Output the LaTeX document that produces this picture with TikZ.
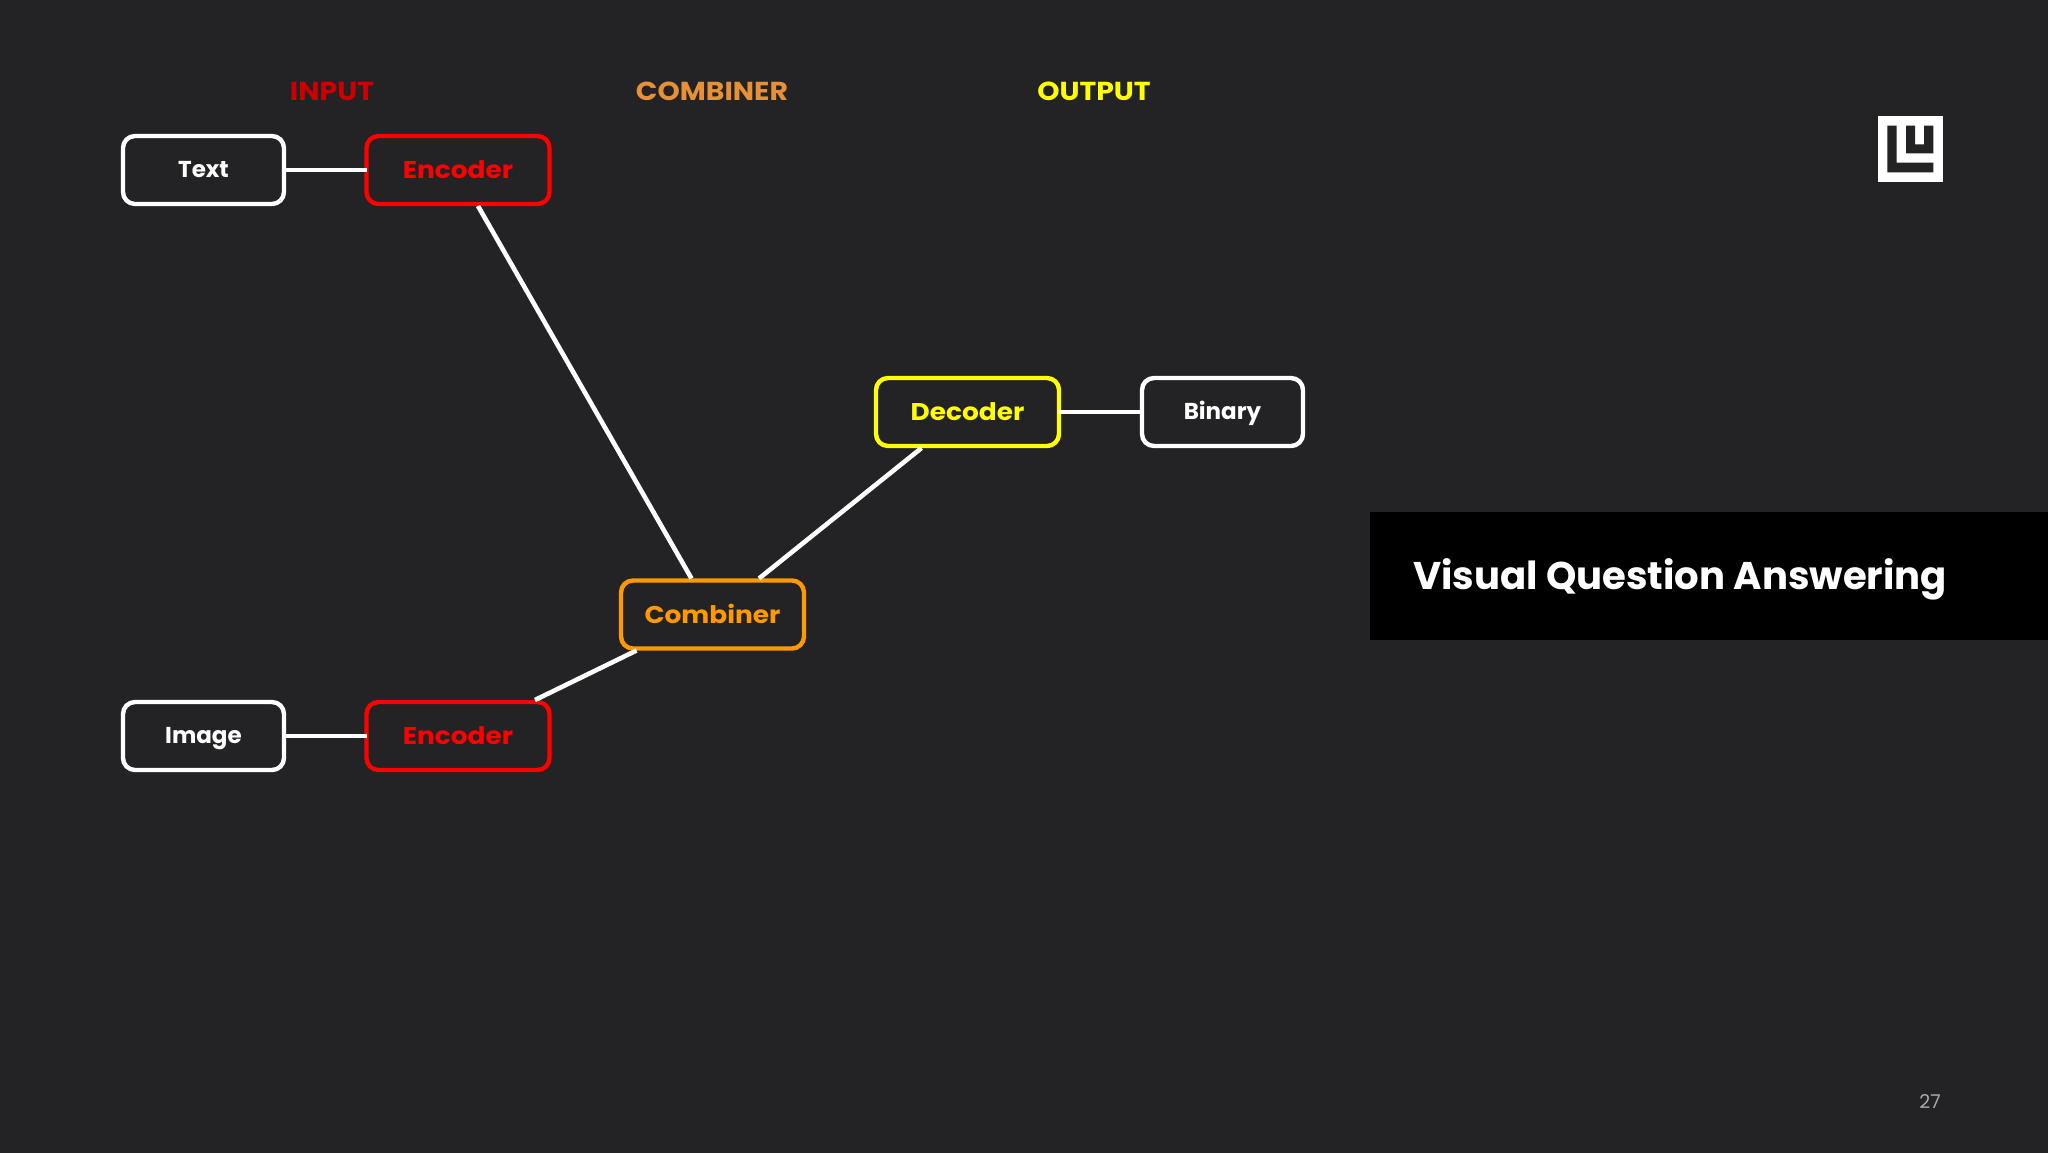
\documentclass[tikz,border=0pt]{standalone}
\usepackage{fontspec}
\setmainfont{Poppins}
\newfontfamily\widefont[FakeStretch=1.09]{Poppins}
\definecolor{bgc}{HTML}{232224}
\definecolor{inputc}{HTML}{CC0000}
\definecolor{combc}{HTML}{E69138}
\definecolor{orangec}{HTML}{FF9900}
\definecolor{yellowc}{HTML}{FFFF00}
\definecolor{redc}{HTML}{FF0000}
\definecolor{numc}{HTML}{ABABAB}
\tikzset{
  box/.style={draw=#1,text=#1,line width=4.4pt,rounded corners=12pt,outer sep=0pt,inner sep=0pt,minimum height=68pt},
  smallbox/.style={box=white,minimum width=161pt,text height=14pt,text depth=0pt,font=\fontsize{23}{23}\selectfont\bfseries},
  bigbox/.style={box=#1,minimum width=183pt,text height=17.5pt,text depth=0pt,font=\widefont\fontsize{24.2}{24}\selectfont\bfseries},
  head/.style={text=#1,inner sep=0pt,font=\widefont\fontsize{26}{26}\selectfont\bfseries},
  link/.style={draw=white,line width=4.6pt}
}
\begin{document}
\begin{tikzpicture}[x=1pt,y=-1pt]
\useasboundingbox (0,0) rectangle (2048,1152);
\fill[bgc] (-5,-5) rectangle (2053,1157);
\node[head=inputc] (h1) at (332,91) {INPUT};
\node[head=combc] (h2) at (712,91) {COMBINER};
\node[head=yellowc] (h3) at (1094,91) {OUTPUT};
\node[smallbox] (text) at (203.5,170) {Text};
\node[bigbox=redc] (enc1) at (458,170) {Encoder};
\node[bigbox=orangec] (comb) at (712.5,614.5) {Combiner};
\node[bigbox=yellowc] (dec) at (967.5,412) {Decoder};
\node[smallbox] (bin) at (1222.5,412) {Binary};
\node[smallbox] (img) at (203.5,736) {Image};
\node[bigbox=redc] (enc2) at (458,736) {Encoder};
\draw[link] (text) -- (enc1);
\draw[link] (img) -- (enc2);
\draw[link] (dec) -- (bin);
\draw[link] ([xshift=20pt,yshift=-2pt]enc1.south) -- ([xshift=-21pt,yshift=2pt]comb.north);
\draw[link] ([xshift=46.5pt,yshift=2pt]comb.north) -- ([xshift=-46pt,yshift=-2pt]dec.south);
\draw[link] ([xshift=77pt,yshift=2pt]enc2.north) -- ([xshift=-76pt,yshift=-2pt]comb.south);
\fill[black] (1370,512) rectangle (2053,640);
\node[anchor=west,text=white,inner sep=0pt,font=\fontsize{38.6}{38}\selectfont\bfseries] (title) at (1413,579) {Visual Question Answering};
\fill[white] (1878,116) rectangle (1943,182);
\fill[bgc] (1887.3,125.7) -- (1896.7,125.7) -- (1896.7,162.7) -- (1933.3,162.7) -- (1933.3,172.3) -- (1887.3,172.3) -- cycle;
\fill[bgc] (1906,125.7) -- (1915,125.7) -- (1915,144.3) -- (1924,144.3) -- (1924,125.7) -- (1933.3,125.7) -- (1933.3,153.3) -- (1906,153.3) -- cycle;
\node[text=numc,inner sep=0pt,font=\fontsize{19}{19}\selectfont] (num) at (1930,1101) {27};
\end{tikzpicture}
\end{document}
